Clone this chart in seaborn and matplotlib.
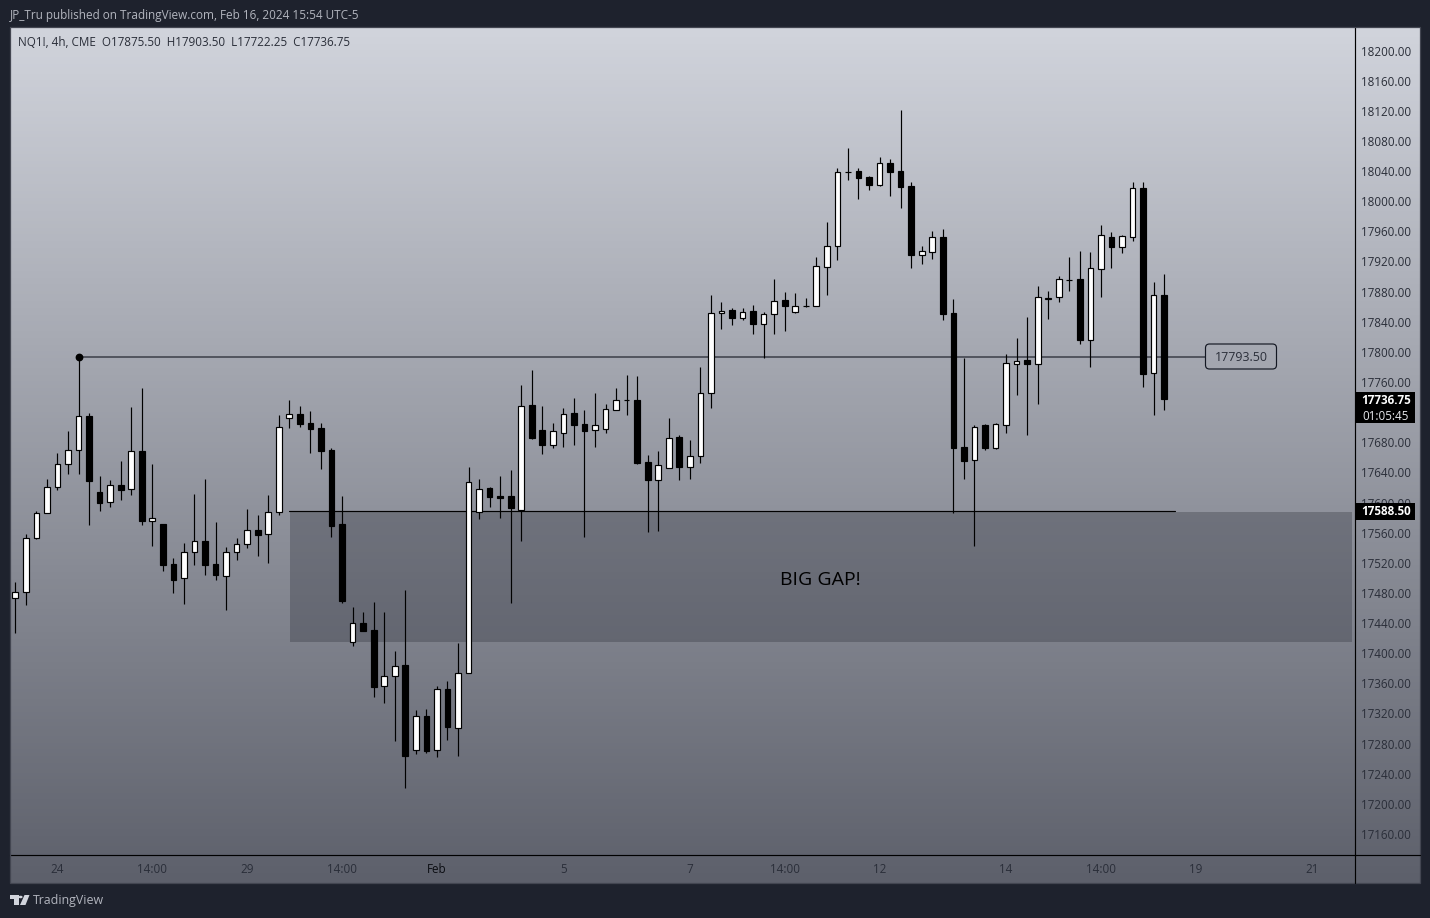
import numpy as np
import pandas as pd
import matplotlib
matplotlib.use("Agg")
import matplotlib.pyplot as plt
from matplotlib.patches import Rectangle, Polygon, Circle, FancyBboxPatch
from matplotlib.transforms import blended_transform_factory, IdentityTransform
import seaborn as sns

opens = [17472.8,17480.7,17553.3,17585.6,17620.1,17650.7,17669.2,17714.8,17613.5,17600.2,
         17623.2,17617.5,17667.9,17575.9,17571.5,17518.4,17499.3,17533.9,17548.4,17518.4,
         17502.0,17533.9,17544.5,17563.0,17557.7,17587.0,17711.7,17717.4,17705.5,17698.9,
         17669.2,17571.0,17414.4,17439.6,17430.3,17355.9,17369.2,17383.8,17271.9,17316.1,
         17271.0,17352.4,17300.2,17373.2,17586.9,17618.8,17608.6,17608.2,17589.5,17728.9,
         17695.7,17676.7,17692.6,17718.3,17703.7,17696.6,17698.0,17723.2,17735.5,17735.6,
         17653.3,17630.3,17645.3,17686.4,17646.6,17661.2,17744.9,17851.0,17855.0,17845.3,
         17853.7,17837.3,17850.7,17868.4,17853.3,17861.5,17861.3,17913.0,17940.0,18038.3,
         18040.0,18032.1,18021.9,18050.7,18040.0,18019.7,17928.1,17933.0,17952.4,17851.1,
         17673.2,17656.0,17702.4,17672.8,17702.4,17784.3,17788.7,17784.3,17869.7,17873.2,
         17896.0,17896.2,17815.2,17910.3,17951.9,17939.5,17952.8,18017.0,17771.4,17875.5]
highs = [17494.5,17557.7,17588.3,17631.2,17665.7,17694.9,17793.6,17718.4,17635.2,17629.9,
         17655.1,17726.8,17752.0,17651.1,17571.5,17526.3,17546.2,17611.3,17631.2,17574.1,
         17540.9,17552.9,17591.4,17583.4,17610.0,17716.1,17736.0,17728.0,17721.4,17705.5,
         17671.9,17608.6,17460.8,17454.2,17467.9,17454.6,17402.9,17483.8,17324.1,17325.9,
         17356.4,17363.0,17413.5,17647.1,17631.2,17620.5,17635.1,17643.1,17755.5,17775.8,
         17728.0,17705.0,17725.4,17738.7,17722.7,17745.3,17730.7,17752.0,17769.2,17767.9,
         17662.6,17667.9,17711.7,17689.1,17682.5,17779.4,17875.4,17865.7,17857.7,17857.7,
         17862.1,17852.4,17896.7,17879.4,17878.1,17871.5,17925.9,17972.4,18043.6,18070.6,
         18043.6,18033.4,18058.6,18056.0,18121.0,18025.5,17940.5,17960.4,17963.0,17869.7,
         17791.8,17702.9,17703.7,17705.1,17797.1,17818.3,17845.8,17887.4,17880.7,17900.6,
         17925.9,17933.8,17932.5,17968.3,17959.0,17955.0,18025.4,18025.4,17892.6,17903.5]
lows = [17427.2,17463.9,17551.5,17585.6,17616.6,17637.8,17637.8,17570.1,17588.7,17594.0,
        17603.3,17610.0,17570.1,17542.3,17509.1,17479.9,17465.3,17517.0,17503.8,17497.1,
        17457.3,17523.7,17539.6,17529.0,17519.7,17583.4,17698.9,17700.6,17666.1,17644.4,
        17554.6,17467.0,17409.9,17429.8,17342.2,17334.3,17283.8,17221.4,17266.6,17267.9,
        17262.6,17285.1,17263.9,17373.2,17578.5,17594.4,17579.8,17466.1,17549.3,17684.2,
        17664.3,17672.7,17673.6,17676.3,17554.2,17673.6,17692.2,17723.2,17716.0,17651.0,
        17560.8,17562.1,17645.3,17629.8,17631.1,17652.8,17725.8,17830.3,17835.6,17842.2,
        17823.6,17792.2,17824.1,17828.1,17852.0,17860.0,17861.3,17875.5,17921.9,18028.1,
        18002.9,18014.8,18020.1,18006.9,17990.9,17911.3,17916.6,17923.2,17842.3,17586.5,
        17631.2,17542.7,17670.1,17671.0,17692.2,17742.7,17690.0,17730.7,17843.6,17866.1,
        17880.7,17810.4,17779.8,17873.2,17911.7,17931.1,17947.1,17753.7,17716.1,17722.25]
closes = [17480.7,17552.4,17585.6,17620.1,17650.7,17669.2,17714.4,17629.0,17599.8,17622.8,
          17617.0,17667.9,17575.9,17579.0,17517.5,17497.6,17533.9,17548.4,17517.5,17504.2,
          17533.9,17544.5,17563.0,17557.3,17587.0,17699.8,17717.0,17704.6,17698.0,17668.8,
          17569.2,17469.7,17439.6,17429.8,17355.5,17369.2,17382.5,17263.9,17316.1,17270.5,
          17352.0,17302.4,17373.2,17626.7,17617.4,17607.7,17606.4,17593.1,17727.6,17685.6,
          17676.7,17694.4,17717.0,17703.3,17695.3,17702.4,17723.6,17735.6,17735.5,17652.4,
          17630.3,17649.3,17685.1,17647.5,17661.2,17744.9,17851.0,17854.6,17845.3,17853.3,
          17837.3,17849.7,17867.0,17861.3,17860.4,17861.5,17913.5,17940.0,18038.3,18038.3,
          18030.8,18021.9,18050.2,18039.2,18019.3,17929.0,17933.4,17952.0,17850.7,17672.8,
          17655.5,17699.8,17672.8,17703.7,17784.7,17788.3,17784.3,17872.3,17871.9,17896.2,
          17896.0,17816.1,17910.8,17954.6,17939.5,17953.2,18017.0,17770.9,17874.9,17736.75]

x_tick_pos = [4, 13, 22, 31, 40, 52, 64, 73, 82, 94, 103, 112, 123]
x_tick_labels = ["24", "14:00", "29", "14:00", "Feb", "5", "7", "14:00", "12", "14", "14:00", "19", "21"]
# 17720 sits wholly behind the last-price tag in the reference, so it is not shown
y_tick_values = [v for v in range(17160, 18240, 40) if v != 17720]

swing_high = 17793.50
swing_start = 6
gap_top = 17588.50
gap_bottom = 17414.8
gap_start = 26.05
gap_line_end = 110.0
last_close = 17736.75

W, H = 1430, 918
BG = "#1e222d"
FONT = ["Open Sans", "DejaVu Sans"]

sns.set_theme(style="white")
plt.rcParams["font.family"] = FONT

fig = plt.figure(figsize=(W / 100, H / 100), dpi=100, facecolor=BG)


def fx(p):
    return p / W


def fy(p):
    return 1 - p / H


# panel gradient
bg_ax = fig.add_axes([fx(10), fy(883), fx(1410), 856 / H], zorder=-1)
cmap = sns.blend_palette(["#d1d4dc", "#5d606b"], as_cmap=True)
bg_ax.imshow(np.linspace(0, 1, 256)[:, None], aspect="auto", cmap=cmap, vmin=0, vmax=1)
bg_ax.axis("off")

ax = fig.add_axes([fx(10), fy(855), 1344.5 / W, 828 / H], facecolor="none")

df = pd.DataFrame({"i": range(len(opens)), "o": opens, "h": highs, "l": lows, "c": closes})
df["up"] = df.c >= df.o
df["bottom"] = df[["o", "c"]].min(axis=1)
df["height"] = (df.c - df.o).abs()

ax.vlines(df.i, df.l, df.h, color="black", lw=0.85, zorder=1.5)
for up, color in [(True, "white"), (False, "black")]:
    sub = df[df.up == up]
    sns.barplot(x=sub.i.values, y=sub.height.values, bottom=sub.bottom.values, native_scale=True,
                color=color, saturation=1, width=0.54, edgecolor="black", linewidth=0.85,
                errorbar=None, zorder=2, ax=ax)

# gap zone
x_right = 126.85
ax.add_patch(Rectangle((gap_start, gap_bottom), x_right - gap_start, gap_top - 1 - gap_bottom,
                       facecolor="#343742", alpha=0.35, edgecolor="none", zorder=1))
sns.lineplot(x=[gap_start - 0.1, gap_line_end], y=[gap_top, gap_top], color="black", lw=0.85, zorder=1.2, ax=ax)
ax.text(76.4, 17497, "BIG GAP!", fontsize=14, fontweight="medium", color="#000000", ha="center", va="center", zorder=3)

# swing-high level
sns.lineplot(x=[swing_start, 112.85], y=[swing_high, swing_high], color="#434651", lw=1.2, zorder=1.2, ax=ax)
ax.plot([swing_start], [swing_high], marker="o", ms=4.6, color="black", zorder=3)
ax.text(116.3, swing_high - 1, f"{swing_high:.2f}", fontsize=8.9, color="#2a2e39", ha="center", va="center", zorder=3)
ax.add_patch(FancyBboxPatch((1205.5, H - 369), 71, 25, boxstyle="round,pad=0,rounding_size=4",
                            transform=IdentityTransform(), facecolor="none", edgecolor="#131722", lw=0.85,
                            clip_on=False, zorder=3))

ax.set_xlim(-0.503, 127.06)
ax.set_ylim(17132.1, 18231.2)
ax.yaxis.tick_right()
ax.set_yticks(y_tick_values)
ax.set_yticklabels([f"{v:.2f}" for v in y_tick_values], fontsize=8.4, color="#2a2e39")
ax.set_xticks(x_tick_pos)
ax.set_xticklabels(x_tick_labels, fontsize=8.4, color="#2a2e39")
for lab, txt in zip(ax.get_xticklabels(), x_tick_labels):
    if txt == "Feb":
        lab.set_color("#0b0d12")
ax.tick_params(axis="both", length=0)
ax.tick_params(axis="y", pad=5)
ax.tick_params(axis="x", pad=6)
ax.set_xlabel("")
ax.set_ylabel("")
for s in ("top", "left"):
    ax.spines[s].set_visible(False)
for s in ("right", "bottom"):
    ax.spines[s].set_color("black")
    ax.spines[s].set_linewidth(0.85)

# last-price and level tags on the price scale
tr = blended_transform_factory(ax.transAxes, ax.transData)
ax.add_patch(Rectangle((1.0006, 17705.9), 0.0446, 40.8, transform=tr, facecolor="black", edgecolor="none",
                       clip_on=False, zorder=6))
ax.text(1.0233, last_close - 1.7, f"{last_close:.2f}", transform=tr, fontsize=8.4, fontweight="bold",
        color="white", ha="center", va="center", zorder=7, clip_on=False)
ax.text(1.0233, last_close - 23.2, "01:05:45", transform=tr, fontsize=8.4, color="#e6e7eb",
        ha="center", va="center", zorder=7, clip_on=False)
ax.add_patch(Rectangle((1.0006, gap_top - 11.3), 0.0446, 22.4, transform=tr, facecolor="black", edgecolor="none",
                       clip_on=False, zorder=6))
ax.text(1.0233, gap_top - 0.5, f"{gap_top:.2f}", transform=tr, fontsize=8.4, fontweight="bold",
        color="white", ha="center", va="center", zorder=7, clip_on=False)

# chrome: panel border, scale separators, header, footer
fig.add_artist(Rectangle((fx(10), fy(883)), fx(1409.5), 856 / H, transform=fig.transFigure,
                         facecolor="none", edgecolor="#434651", lw=0.9))
fig.add_artist(plt.Line2D([fx(1354.5), fx(1354.5)], [fy(883), fy(855)], color="black", lw=0.85))
fig.add_artist(plt.Line2D([fx(1354.5), fx(1420)], [fy(855), fy(855)], color="black", lw=0.85))

fig.text(fx(10), fy(15), "JP_Tru published on TradingView.com, Feb 16, 2024 15:54 UTC-5",
         fontsize=8.47, color="#b2b5be", va="center", ha="left")
fig.text(fx(18), fy(42), "NQ1!, 4h, CME  O17875.50  H17903.50  L17722.25  C17736.75",
         fontsize=8.35, color="#2a2e39", va="center", ha="left")
fig.text(fx(33), fy(900.5), "TradingView", fontsize=8.95, color="#b2b5be", va="center", ha="left")


def logo_poly(pts):
    return Polygon([(fx(a), fy(b)) for a, b in pts], closed=True, transform=fig.transFigure,
                   facecolor="#d1d4dc", edgecolor="none")


fig.add_artist(logo_poly([(10, 895), (18.5, 895), (18.5, 905), (14.3, 905), (14.3, 899), (10, 899)]))
fig.add_artist(logo_poly([(24.5, 895), (29.5, 895), (25.5, 905), (20, 905)]))
fig.add_artist(Circle((fx(20.6), fy(897)), 2.0 / W, transform=fig.transFigure, facecolor="#d1d4dc", edgecolor="none"))

fig.savefig("out.png", dpi=100, facecolor=BG)
